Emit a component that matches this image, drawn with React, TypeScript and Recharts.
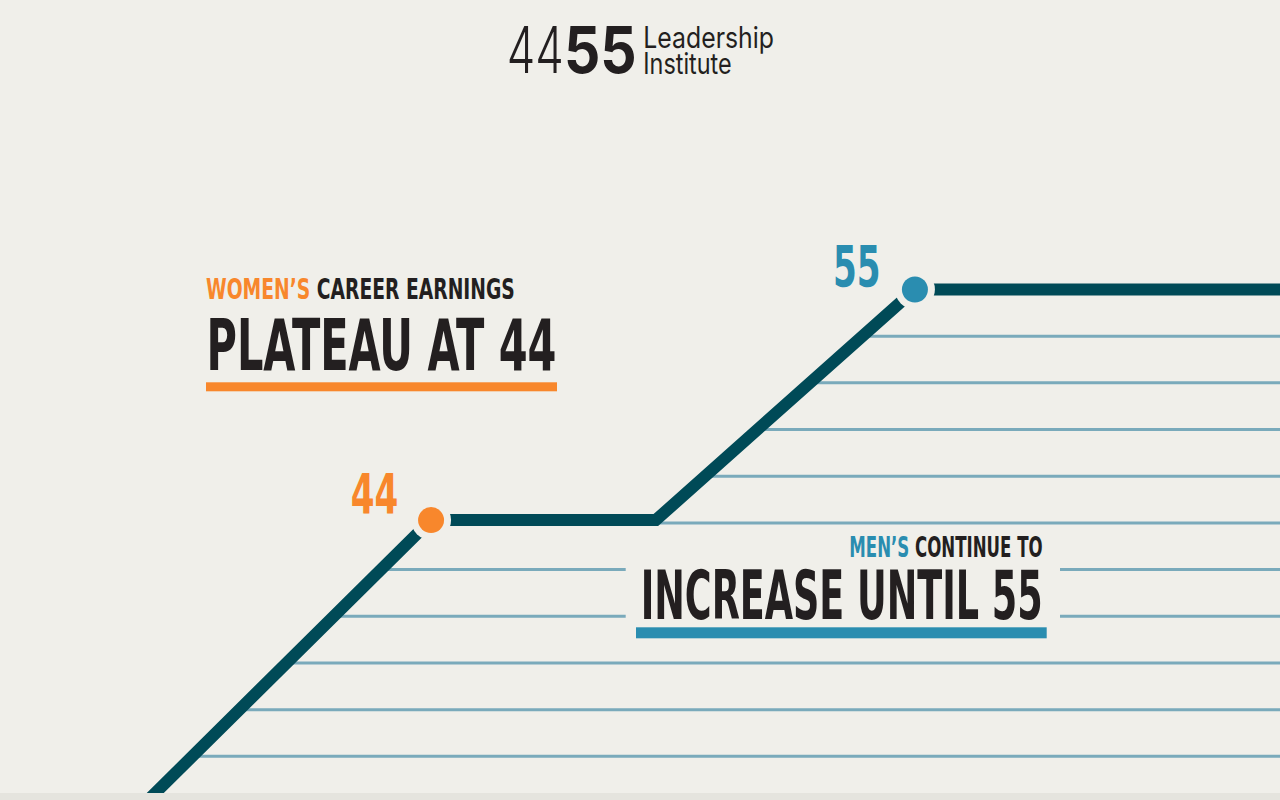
import React, { useLayoutEffect, useRef, useState } from 'react';
import { ComposedChart, Line, XAxis, YAxis } from 'recharts';

// earnings path (age -> earnings level, in grid steps)
const pathAges = [37.5, 44, 49.11, 55, 63.3];
const pathLevels = [0, 6.06, 6.06, 11, 11];
const pathMarkers = ['', '44', '', '55', ''];

// light guide lines, one per earnings level
const gridLevels = [1, 2, 3, 4, 5, 6, 7, 8, 9, 10];

const AGE_MIN = 34.2;
const AGE_MAX = 63.3;
const LEVEL_MAX = 17.2;

const BG = '#f0efea';
const DARK = '#004a57';
const GRID = '#7aaabb';
const ORANGE = '#f8872c';
const BLUE = '#2a8db0';
const INK = '#231f20';
const HEAD_FONT = "'Liberation Sans Narrow', 'DejaVu Sans Condensed', 'Roboto', sans-serif";
const LOGO_FONT = "Inter, 'Liberation Sans', sans-serif";

const pathData = pathAges.map((age, i) => ({ age, level: pathLevels[i], marker: pathMarkers[i] }));

// where the earnings path first climbs past a given level
const startAgeFor = (level: number) => {
  for (let i = 0; i < pathData.length - 1; i++) {
    const a = pathData[i];
    const b = pathData[i + 1];
    if (a.level <= level && b.level > level) {
      return a.age + ((level - a.level) / (b.level - a.level)) * (b.age - a.age);
    }
  }
  return AGE_MIN;
};

const gridData = gridLevels.map((level) => [
  { age: startAgeFor(level), level },
  { age: AGE_MAX, level },
]);

// svg text squeezed horizontally to a given width (condensed headline look)
const FitText = ({ x, y, width, children, ...rest }: any) => {
  const ref = useRef<SVGTextElement>(null);
  const [sx, setSx] = useState(1);
  useLayoutEffect(() => {
    const w = ref.current ? ref.current.getComputedTextLength() : 0;
    if (w > 0) setSx(width / w);
  }, [width]);
  return (
    <g transform={`translate(${x} ${y}) scale(${sx} 1)`}>
      <text ref={ref} x={0} y={0} {...rest}>
        {children}
      </text>
    </g>
  );
};

const markerStyle: Record<string, { color: string; dx: number; dy: number; size: number }> = {
  '44': { color: ORANGE, dx: -80.4, dy: -6.8, size: 55 },
  '55': { color: BLUE, dx: -82, dy: -2.7, size: 57 },
};

const MarkerDot = (props: any) => {
  const { cx, cy, payload, index } = props;
  const st = markerStyle[payload?.marker];
  if (!st) return <g key={`d-${index}`} />;
  return (
    <g key={`d-${index}`}>
      <circle cx={cx} cy={cy} r={20} fill={BG} />
      <circle cx={cx} cy={cy} r={13} fill={st.color} />
      <FitText x={cx + st.dx} y={cy + st.dy} width={47.6} fill={st.color} fontFamily={HEAD_FONT} fontWeight={700} fontSize={st.size}>
        {payload.marker}
      </FitText>
    </g>
  );
};

const App: React.FC = () => {
  return (
    <div style={{ position: 'absolute', left: 0, top: 0, width: 1280, height: 800, overflow: 'hidden', background: BG }}>
      <div style={{ position: 'absolute', left: 0, top: 0 }}>
        <ComposedChart width={1280} height={803} margin={{ top: 0, right: 0, bottom: 0, left: 0 }}>
          <XAxis type="number" dataKey="age" domain={[AGE_MIN, AGE_MAX]} hide allowDataOverflow />
          <YAxis type="number" dataKey="level" domain={[0, LEVEL_MAX]} hide allowDataOverflow />
          {gridData.map((d, i) => (
            <Line
              key={`g-${i}`}
              data={d}
              dataKey="level"
              stroke={GRID}
              strokeWidth={3}
              dot={false}
              activeDot={false}
              isAnimationActive={false}
              type="linear"
            />
          ))}
          <Line
            data={pathData}
            dataKey="level"
            stroke={DARK}
            strokeWidth={12}
            strokeLinejoin="miter"
            strokeLinecap="butt"
            dot={MarkerDot}
            activeDot={false}
            isAnimationActive={false}
            type="linear"
          />
        </ComposedChart>
      </div>

      <svg width={1280} height={800} style={{ position: 'absolute', left: 0, top: 0 }}>
        {/* logo */}
        <FitText x={506.7} y={73.3} width={57} fontFamily={LOGO_FONT} fontWeight={300} fontSize={64} fill={INK}>44</FitText>
        <FitText x={564} y={73.3} width={72.7} fontFamily={LOGO_FONT} fontWeight={700} fontSize={64} fill={INK}>55</FitText>
        <FitText x={643.3} y={48.3} width={130.7} fontFamily={LOGO_FONT} fontSize={29.5} fill={INK}>Leadership</FitText>
        <FitText x={643.3} y={74} width={88.4} fontFamily={LOGO_FONT} fontSize={29.5} fill={INK}>Institute</FitText>

        {/* women's callout */}
        <FitText x={206} y={299} width={309} fontFamily={HEAD_FONT} fontWeight={700} fontSize={27.5} fill={INK}>
          <tspan fill={ORANGE}>WOMEN’S</tspan> CAREER EARNINGS
        </FitText>
        <FitText x={206.5} y={370} width={350} fontFamily={HEAD_FONT} fontWeight={700} fontSize={71} fill={INK}>PLATEAU AT 44</FitText>
        <rect x={206} y={382.3} width={351} height={9} fill={ORANGE} />

        {/* men's callout */}
        <rect x={625.7} y={530} width={434.3} height={115} fill={BG} />
        <FitText x={849.3} y={557.3} width={193.4} fontFamily={HEAD_FONT} fontWeight={700} fontSize={28} fill={INK}>
          <tspan fill={BLUE}>MEN’S</tspan> CONTINUE TO
        </FitText>
        <FitText x={640.7} y={619} width={402} fontFamily={HEAD_FONT} fontWeight={700} fontSize={67} fill={INK}>INCREASE UNTIL 55</FitText>
        <rect x={636} y={627.3} width={410.7} height={11} fill={BLUE} />
      </svg>

      <div style={{ position: 'absolute', left: 0, top: 792.7, width: 1280, height: 8, background: '#e5e4de' }} />
    </div>
  );
};

export default App;
